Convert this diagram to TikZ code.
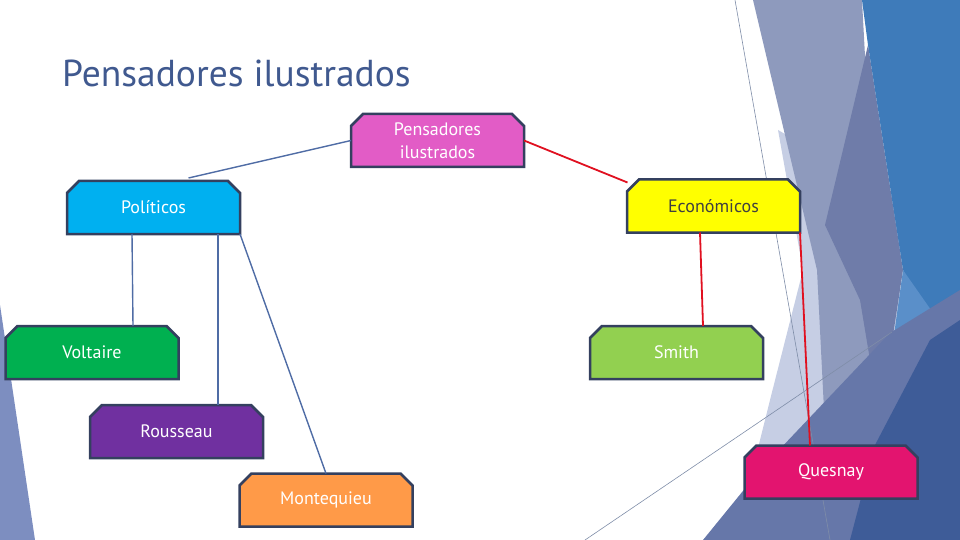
\documentclass[tikz,border=0pt]{standalone}
\usepackage{fontspec}
\setmainfont{PT Sans}
\usetikzlibrary{shapes.misc, positioning}
\definecolor{titulo}{HTML}{40598F}
\definecolor{bordecaja}{HTML}{34405F}
\definecolor{lineaazul}{HTML}{4F6CA5}
\definecolor{linearoja}{HTML}{E01020}
\definecolor{rosa}{HTML}{E25CC6}
\definecolor{celeste}{HTML}{00B0F0}
\definecolor{amarillo}{HTML}{FFFF00}
\definecolor{verde}{HTML}{00B050}
\definecolor{verdeclaro}{HTML}{92D050}
\definecolor{morado}{HTML}{7030A0}
\definecolor{fucsia}{HTML}{E3146F}
\definecolor{naranja}{HTML}{FF9A48}
\definecolor{grisoscuro}{HTML}{404040}
% facetas del fondo
\definecolor{facpalido}{HTML}{C6CEE4}
\definecolor{faclavanda}{HTML}{8E9ABD}
\definecolor{facpizarra}{HTML}{6F7CA9}
\definecolor{facazul}{HTML}{3E7BBA}
\definecolor{facazulclaro}{HTML}{5A8FC9}
\definecolor{facmedio}{HTML}{6677A9}
\definecolor{facoscuro}{HTML}{3E5C98}
\definecolor{facizq}{HTML}{7D8EC0}
\definecolor{faclinea}{HTML}{7F8DA8}
\tikzset{
  caja/.style={chamfered rectangle, chamfered rectangle corners={north west, north east},
               chamfered rectangle xsep=6pt, chamfered rectangle ysep=6pt,
               minimum width=173pt, minimum height=53pt, inner sep=0pt, outer sep=0pt,
               draw=bordecaja, line width=2.5pt, text=white, align=center,
               font=\fontsize{18}{23}\selectfont},
  rama/.style={line width=1.4pt, color=lineaazul},
  ramaroja/.style={line width=1.8pt, color=linearoja},
  hilo/.style={line width=0.6pt, color=faclinea}
}

\begin{document}
\begin{tikzpicture}[x=1pt, y=1pt]
  \useasboundingbox (0,0) rectangle (960,-540);
  % fondo
  \fill[facizq] (0,-305) -- (35,-540) -- (0,-540) -- cycle;
  \fill[facpalido] (778,-130) -- (803,-270) -- (770,-400) -- (735,-540) -- (900,-540) -- (900,-200) -- cycle;
  \fill[faclavanda] (753,0) -- (862,0) -- (885,-430) -- (825,-430) -- (817,-270) -- cycle;
  \fill[facpizarra] (868,-45) -- (903,-270) -- (880,-420) -- (860,-300) -- (825,-225) -- cycle;
  \fill[facazul] (862,0) -- (960,0) -- (960,-330) -- (935,-335) -- (903,-270) -- (868,-45) -- cycle;
  \fill[facazulclaro] (903,-270) -- (945,-330) -- (878,-445) -- (885,-400) -- cycle;
  \fill[facmedio] (703,-540) -- (760,-470) -- (890,-333) -- (960,-290) -- (960,-540) -- cycle;
  \fill[facoscuro] (850,-540) -- (875,-445) -- (930,-340) -- (960,-320) -- (960,-540) -- cycle;
  \draw[hilo] (735,0) -- (830,-540);
  \draw[hilo] (585,-540) -- (892,-332);

  \node (titulo) [anchor=base west, text=titulo, font=\fontsize{37.5}{42}\selectfont, inner sep=0pt] at (62,-87) {Pensadores ilustrados};

  \node (raiz) [caja, fill=rosa] at (437.5,-140.5) {Pensadores\\ilustrados};
  \node (politicos) [caja, fill=celeste] at (153.5,-207.5) {Políticos};
  \node (economicos) [caja, fill=amarillo, text=grisoscuro] at (713.5,-206) {Económicos};
  \node (voltaire) [caja, fill=verde] at (92,-352.5) {Voltaire};
  \node (smith) [caja, fill=verdeclaro] at (676.5,-352.5) {Smith};
  \node (rousseau) [caja, fill=morado] at (176.5,-431.5) {Rousseau};
  \node (quesnay) [caja, fill=fucsia] at (831,-472) {Quesnay};
  \node (montequieu) [caja, fill=naranja] at (326,-500) {Montequieu};

  \draw [rama] (raiz.west) -- ([xshift=35pt, yshift=3pt]politicos.north);
  \draw [ramaroja] (raiz.east) -- ([xshift=-86pt, yshift=-3pt]economicos.north);
  \draw [rama] ([xshift=-21.5pt]politicos.south) -- ([xshift=41pt]voltaire.north);
  \draw [rama] ([xshift=64.5pt]politicos.south) -- ([xshift=41.5pt]rousseau.north);
  \draw [rama] ([xshift=86.5pt]politicos.south) -- (montequieu.north);
  \draw [ramaroja] ([xshift=-13.5pt]economicos.south) -- ([xshift=26.5pt]smith.north);
  \draw [ramaroja] ([xshift=86.5pt]economicos.south) -- ([xshift=-21pt]quesnay.north);
\end{tikzpicture}
\end{document}
